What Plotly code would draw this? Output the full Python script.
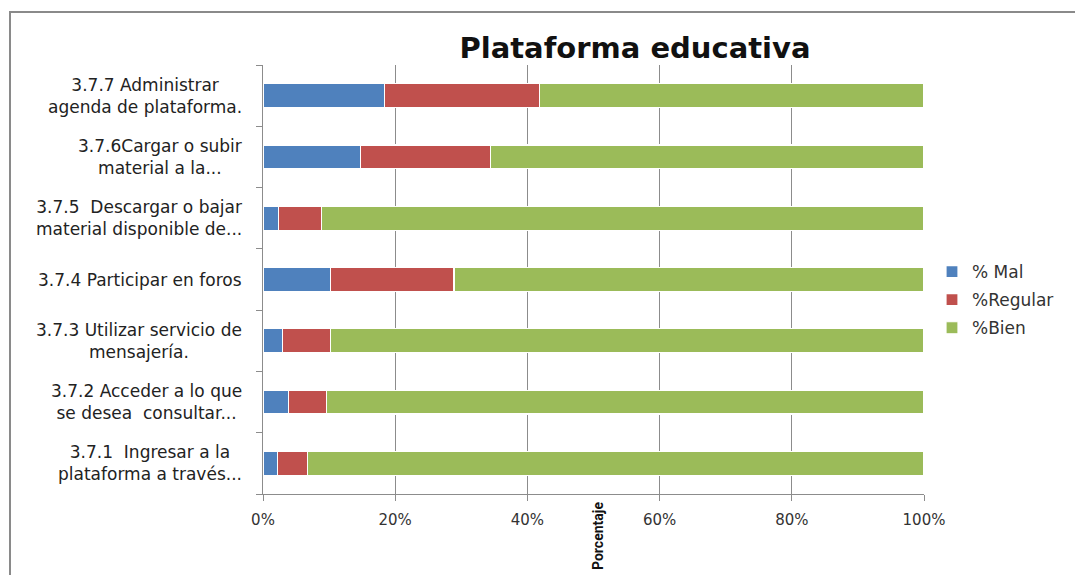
import plotly.graph_objects as go

# Survey items, bottom to top
categories = [
    "3.7.1  Ingresar a la<br>plataforma a través...",
    "3.7.2 Acceder a lo que<br>se desea  consultar...",
    "3.7.3 Utilizar servicio de<br>mensajería.",
    "3.7.4 Participar en foros",
    "3.7.5  Descargar o bajar<br>material disponible de...",
    "3.7.6Cargar o subir<br>material a la...",
    "3.7.7 Administrar<br>agenda de plataforma.",
]
mal = [2.2, 3.8, 3.0, 10.2, 2.4, 14.7, 18.4]
regular = [4.5, 5.8, 7.2, 18.7, 6.5, 19.7, 23.4]
bien = [93.3, 90.4, 89.8, 71.1, 91.1, 65.6, 58.2]

series = [
    ("% Mal", mal, "#4F81BD"),
    ("%Regular", regular, "#C0504D"),
    ("%Bien", bien, "#9BBB59"),
]
x_ticks = [0, 20, 40, 60, 80, 100]
x_tick_text = ["0%", "20%", "40%", "60%", "80%", "100%"]

W, H = 1075, 575
L, R, T, B = 263, 924, 65, 494
FONT = "DejaVu Sans, Verdana, sans-serif"
GRID = "#8c8c8c"

fig = go.Figure()
for name, vals, color in series:
    fig.add_trace(go.Bar(
        y=list(range(len(categories))), x=vals, name=name, orientation="h",
        marker=dict(color=color, line=dict(color="white", width=1.2)),
        legendgroup=name,
    ))

# category labels, centred line by line, right edge next to the axis
for i, lab in enumerate(categories):
    fig.add_annotation(
        x=-19 / (R - L), xref="paper", y=i, yref="y",
        text=lab, showarrow=False, xanchor="right", yanchor="middle",
        align="center", font=dict(family=FONT, size=17, color="#222222"),
    )

def px_x(p):
    return (p - L) / (R - L)

def px_y(p):
    return (B - p) / (B - T)

# outer chart frame (left and top edges)
fig.add_shape(type="line", xref="paper", yref="paper",
              x0=px_x(10), x1=px_x(10), y0=px_y(12), y1=px_y(580),
              line=dict(color="#8a8a8a", width=2))
fig.add_shape(type="line", xref="paper", yref="paper",
              x0=px_x(9), x1=px_x(1080), y0=px_y(12), y1=px_y(12),
              line=dict(color="#8a8a8a", width=2))

# axis title, rotated under the axis
fig.add_annotation(
    x=px_x(598), xref="paper", y=px_y(500), yref="paper",
    text="<b>Porcentaje</b>", textangle=-90, showarrow=False,
    xanchor="center", yanchor="top",
    font=dict(family="Liberation Sans Narrow, Roboto, sans-serif", size=14, color="#111111"),
)

fig.update_layout(
    width=W, height=H,
    margin=dict(l=L, r=W - R, t=T, b=H - B, pad=0, autoexpand=False),
    paper_bgcolor="white", plot_bgcolor="white",
    barmode="stack", bargap=0.61,
    title=dict(text="<b>Plataforma educativa</b>", x=635 / W, xref="container",
               xanchor="center", y=(H - 48) / H, yref="container", yanchor="middle",
               font=dict(family=FONT, size=29, color="#111111")),
    xaxis=dict(range=[0, 100], tickvals=x_ticks, ticktext=x_tick_text,
               showgrid=True, gridcolor=GRID, gridwidth=1,
               showline=True, linecolor=GRID, linewidth=1,
               ticks="outside", ticklen=6, tickcolor=GRID,
               ticklabelstandoff=6,
               zeroline=False, fixedrange=True,
               tickfont=dict(family=FONT, size=15, color="#333333")),
    yaxis=dict(range=[-0.5, len(categories) - 0.5],
               tickvals=[i - 0.5 for i in range(len(categories) + 1)],
               showticklabels=False, showgrid=False, zeroline=False,
               showline=True, linecolor=GRID, linewidth=1,
               ticks="outside", ticklen=6, tickcolor=GRID),
    legend=dict(x=px_x(932), xanchor="left", y=px_y(254), yanchor="top",
                traceorder="grouped", tracegroupgap=3, itemwidth=30,
                font=dict(family=FONT, size=17, color="#333333"),
                bgcolor="rgba(0,0,0,0)"),
    showlegend=True,
)

fig.write_html("out.html")
